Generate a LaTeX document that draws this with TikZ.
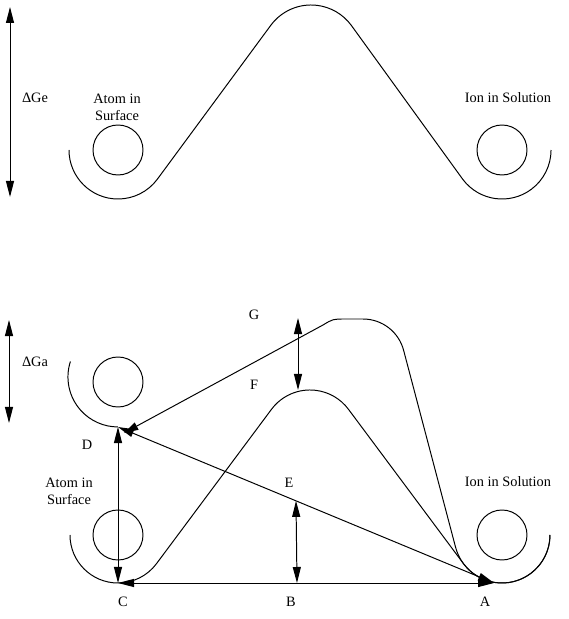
\documentclass[tikz,border=0pt]{standalone}
\usepackage{fontspec}
\setmainfont{Liberation Serif}
\usetikzlibrary{arrows.meta,calc}

\begin{document}
\begin{tikzpicture}[
    x=0.025cm, y=0.025cm,
    curve/.style={line width=0.7pt},
    atom/.style={line width=0.7pt},
    dim/.style={line width=0.7pt,
                {Triangle[length=4mm,width=2mm]}-{Triangle[length=4mm,width=2mm]}},
    intip/.style={line width=0.7pt, {Triangle[length=3.6mm,width=2mm]}-},
    lbl/.style={font=\fontsize{10.2}{12}\selectfont, inner sep=0pt, align=center},
]
\useasboundingbox (0,0) rectangle (568,619);

% =========================================================
% UPPER DIAGRAM: one barrier between surface and solution
% =========================================================
\foreach \cx in {118,502}
  \draw[atom] (\cx,469) circle[radius=25];

\draw[curve] (69,469) arc[start angle=180, end angle=323, radius=49]
  -- (271.1,594.1) arc[start angle=143, end angle=37, radius=50]
  -- (462.9,439.5) arc[start angle=217, end angle=360, radius=49];

\coordinate (GeTop) at (10,612);
\coordinate (GeBot) at (10,422);
\draw[dim] (GeTop) -- (GeBot);

\node[lbl] (dGe)   at (35,521)  {ΔGe};
\node[lbl] (surf1) at (117,512) {Atom in\\Surface};
\node[lbl] (sol1)  at (508,521) {Ion in Solution};

% =========================================================
% LOWER DIAGRAM: the surface level raised, two barriers
% =========================================================
\foreach \cx/\cy in {118/237, 118/84, 502/84}
  \draw[atom] (\cx,\cy) circle[radius=25];

\coordinate (D)   at (118,192);
\coordinate (C)   at (118,36);
\coordinate (B)   at (297,36);
\coordinate (A)   at (494,36);
\coordinate (E)   at ($(D)!0.4734!(A)$);
\coordinate (Gpk) at (298,301);
\coordinate (Fpk) at (298,229);

% well of the raised surface state
\draw[curve] (70.4,257.5) arc[start angle=162, end angle=270, radius=50];

% lower barrier F
\draw[curve] (70,84) arc[start angle=180, end angle=323.3, radius=48]
  -- (271.5,209.7) arc[start angle=143.3, end angle=36.7, radius=48]
  -- (463.5,55.3) arc[start angle=216.7, end angle=360, radius=48];

% higher barrier G, ending in D
\draw[intip] ($(D)+(6,-6)$) -- (323,294) .. controls (333,300) .. (345,300)
  -- (363,300) arc[start angle=90, end angle=14, radius=42]
  -- (455.4,72.4) arc[start angle=194, end angle=360, radius=48];

\draw[dim] (D) -- (A);
\draw[dim] (D) -- (C);
\draw[dim] (C) -- (A);
\draw[dim] (E) -- (B);
\draw[dim] (Gpk) -- (Fpk);

\coordinate (GaTop) at (9,299);
\coordinate (GaBot) at (9,196);
\draw[dim] (GaTop) -- (GaBot);

\node[lbl] (dGa)   at (35,257)  {ΔGa};
\node[lbl] (labG)  at (254,304) {G};
\node[lbl] (labF)  at (254,234) {F};
\node[lbl] (labD)  at (87,174)  {D};
\node[lbl] (labE)  at (289,136) {E};
\node[lbl] (surf2) at (69,128)  {Atom in\\Surface};
\node[lbl] (sol2)  at (508,137) {Ion in Solution};
\node[lbl] (labC)  at (123,17)  {C};
\node[lbl] (labB)  at (291,17)  {B};
\node[lbl] (labA)  at (485,17)  {A};

\end{tikzpicture}
\end{document}
